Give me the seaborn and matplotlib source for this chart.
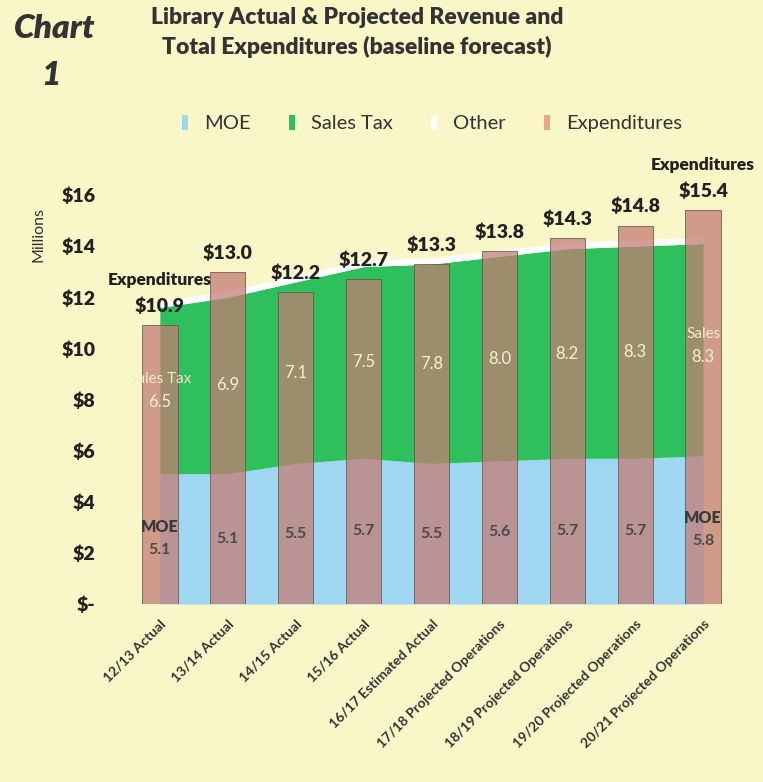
import matplotlib
matplotlib.use("Agg")
import matplotlib.pyplot as plt
from matplotlib.patches import Patch
import seaborn as sns
import pandas as pd

categories = ["12/13 Actual", "13/14 Actual", "14/15 Actual", "15/16 Actual",
              "16/17 Estimated Actual", "17/18 Projected Operations",
              "18/19 Projected Operations", "19/20 Projected Operations",
              "20/21 Projected Operations"]
moe = [5.1, 5.1, 5.5, 5.7, 5.5, 5.6, 5.7, 5.7, 5.8]
sales_tax = [6.5, 6.9, 7.1, 7.5, 7.8, 8.0, 8.2, 8.3, 8.3]
other = [0.25, 0.25, 0.25, 0.25, 0.25, 0.25, 0.25, 0.25, 0.25]
expenditures = [10.9, 13.0, 12.2, 12.7, 13.3, 13.8, 14.3, 14.8, 15.4]
y_ticks = [0, 2, 4, 6, 8, 10, 12, 14, 16]
y_tick_labels = ["$-", "$2", "$4", "$6", "$8", "$10", "$12", "$14", "$16"]

BG = "#F9F6C8"
C_MOE = "#9FD6F2"
C_SALES = "#2EC05C"
C_OTHER = "#FFFFFF"
C_EXP = "#C47C74"

sns.set_theme(style="white")
plt.rcParams["font.family"] = ["Lato", "DejaVu Sans"]

df = pd.DataFrame({"cat": categories, "exp": expenditures})

fig = plt.figure(figsize=(7.63, 7.82), dpi=100, facecolor=BG)
ax = fig.add_axes([0.165, 0.2276, 0.801, 0.5524])
ax.set_facecolor(BG)

xs = list(range(len(categories)))
ax.stackplot(xs, moe, sales_tax, other, colors=[C_MOE, C_SALES, C_OTHER],
             zorder=1, linewidth=0)

sns.barplot(data=df, x="cat", y="exp", ax=ax, color=C_EXP, alpha=0.74,
            width=0.52, saturation=1, edgecolor="#5e504c", linewidth=0.7,
            zorder=2)

ax.set_xlim(-0.5, len(categories) - 0.5)
ax.set_ylim(0, 16.9)
ax.set_yticks(y_ticks)
ax.set_yticklabels(y_tick_labels, fontsize=14, fontweight="heavy", color="#222222")
ax.set_xticks(xs)
ax.set_xticklabels(categories, rotation=45, ha="right", rotation_mode="anchor",
                   fontsize=10, fontweight="bold", color="#333333")
ax.tick_params(axis="y", length=0, pad=22)
ax.tick_params(axis="x", length=0, pad=10)
ax.set_xlabel("")
ax.set_ylabel("")
for s in ax.spines.values():
    s.set_visible(False)

fig.text(0.050, 0.70, "Millions", rotation=90, fontsize=11.5, color="#333333",
         ha="center", va="center")

# expenditure labels
for i, v in enumerate(expenditures):
    ax.text(i, v + 0.4, f"${v:.1f}", ha="center", va="bottom", fontsize=14,
            fontweight="heavy", color="#222222", zorder=5)
for i in (0, len(expenditures) - 1):
    ax.text(i, expenditures[i] + 1.45, "Expenditures", ha="center", va="bottom",
            fontsize=12.5, fontweight="heavy", color="#222222", zorder=5)

# sales tax labels
for i, (m, s) in enumerate(zip(moe, sales_tax)):
    y = m + s / 2
    if i == 0:
        ax.text(i, y + 0.45, "Sales Tax", ha="center", va="center", fontsize=11,
                color="#EFEFC8", zorder=5)
        ax.text(i, y - 0.45, f"{s:.1f}", ha="center", va="center", fontsize=12,
                color="#F5F2CF", zorder=5)
    elif i == len(moe) - 1:
        ax.text(i, y + 0.6, "Sales", ha="center", va="center", fontsize=11,
                color="#EFEFC8", zorder=5)
        ax.text(i, y - 0.3, f"{s:.1f}", ha="center", va="center", fontsize=12,
                color="#F5F2CF", zorder=5)
    else:
        ax.text(i, y, f"{s:.1f}", ha="center", va="center", fontsize=12,
                color="#F5F2CF", zorder=5)

# MOE labels
for i, m in enumerate(moe):
    y = m / 2
    if i in (0, len(moe) - 1):
        ax.text(i, y + 0.45, "MOE", ha="center", va="center", fontsize=11.5,
                fontweight="heavy", color="#3a3a3a", zorder=5)
        ax.text(i, y - 0.45, f"{m:.1f}", ha="center", va="center", fontsize=11.5,
                fontweight="bold", color="#4a4a4a", zorder=5)
    else:
        ax.text(i, y, f"{m:.1f}", ha="center", va="center", fontsize=11.5,
                fontweight="bold", color="#4a4a4a", zorder=5)

# title
fig.text(0.468, 0.977, "Library Actual & Projected Revenue and", ha="center",
         va="center", fontsize=16.5, fontweight="heavy", color="#333333")
fig.text(0.468, 0.940, "Total Expenditures (baseline forecast)", ha="center",
         va="center", fontsize=16.5, fontweight="heavy", color="#333333")
fig.text(0.072, 0.964, "Chart", ha="center", va="center", fontsize=24,
         fontweight="heavy", fontstyle="italic", color="#333333")
fig.text(0.067, 0.904, "1", ha="center", va="center", fontsize=24,
         fontweight="heavy", fontstyle="italic", color="#333333")

handles = [Patch(facecolor=C_MOE, edgecolor="none"),
           Patch(facecolor=C_SALES, edgecolor="none"),
           Patch(facecolor=C_OTHER, edgecolor="none"),
           Patch(facecolor="#EBA58A", edgecolor="none")]
fig.legend(handles, ["MOE", "Sales Tax", "Other", "Expenditures"],
           loc="center", bbox_to_anchor=(0.566, 0.842), ncol=4, frameon=False,
           fontsize=14.5, handlelength=0.3, handleheight=0.8, handletextpad=0.8,
           columnspacing=1.9, labelcolor="#333333")

fig.savefig("out.png", dpi=100, facecolor=BG)
